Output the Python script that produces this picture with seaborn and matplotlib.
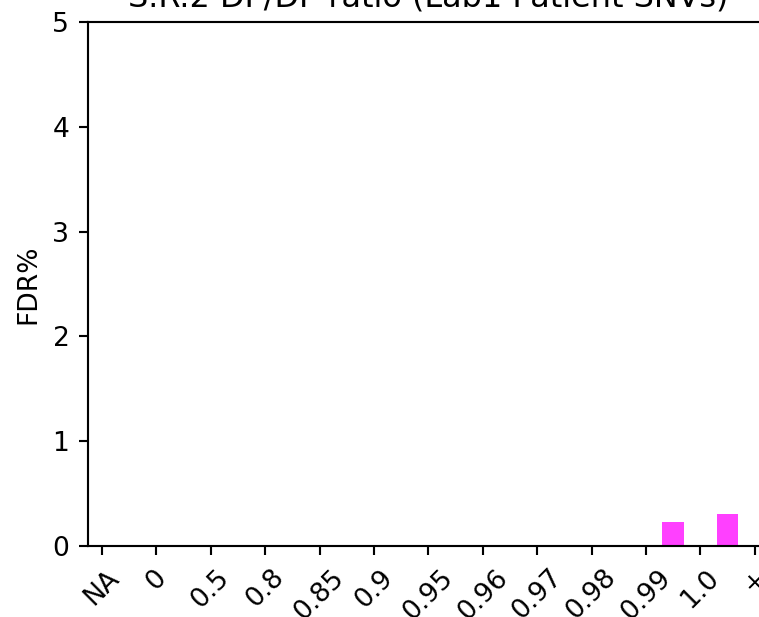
import matplotlib
matplotlib.use("Agg")
import matplotlib.pyplot as plt
import seaborn as sns
import numpy as np
import pandas as pd

tick_labels = ["NA", "0", "0.5", "0.8", "0.85", "0.9", "0.95", "0.96", "0.97", "0.98", "0.99", "1.0", "+"]
bin_labels = ["NA", "0", "0.5", "0.8", "0.85", "0.9", "0.95", "0.96", "0.97", "0.98", "0.99", "1.0"]
fdr_values = [0, 0, 0, 0, 0, 0, 0, 0, 0, 0, 0.23, 0.305]

title = "S.R.2 DP/DP ratio (Lab1 Patient SNVs)"

W, H, DPI = 759, 617, 191
fig = plt.figure(figsize=(W / DPI, H / DPI), dpi=DPI)

x_min, x_max = -0.257, 12.257
px_per_unit = 54.4
left_px, top_px, bottom_px = 88, 22, 546
width_px = (x_max - x_min) * px_per_unit
ax = fig.add_axes([left_px / W, (H - bottom_px) / H, width_px / W, (bottom_px - top_px) / H])

df = pd.DataFrame({
    "pos": np.arange(len(bin_labels)) + 0.5,
    "FDR": fdr_values,
})
nz = df[df["FDR"] > 0]
sns.barplot(data=nz, x="pos", y="FDR", native_scale=True, width=0.4,
            color="#ff40ff", saturation=1, linewidth=0, ax=ax)

ax.set_xlim(x_min, x_max)
ax.set_ylim(0, 5)
ax.set_xticks(np.arange(len(tick_labels)))
ax.set_xticklabels(tick_labels, rotation=45)
ax.set_yticks([0, 1, 2, 3, 4, 5])
ax.set_xlabel("")
ax.set_ylabel("FDR%")
ax.set_title(title)

fig.savefig("out.png", dpi=DPI)
